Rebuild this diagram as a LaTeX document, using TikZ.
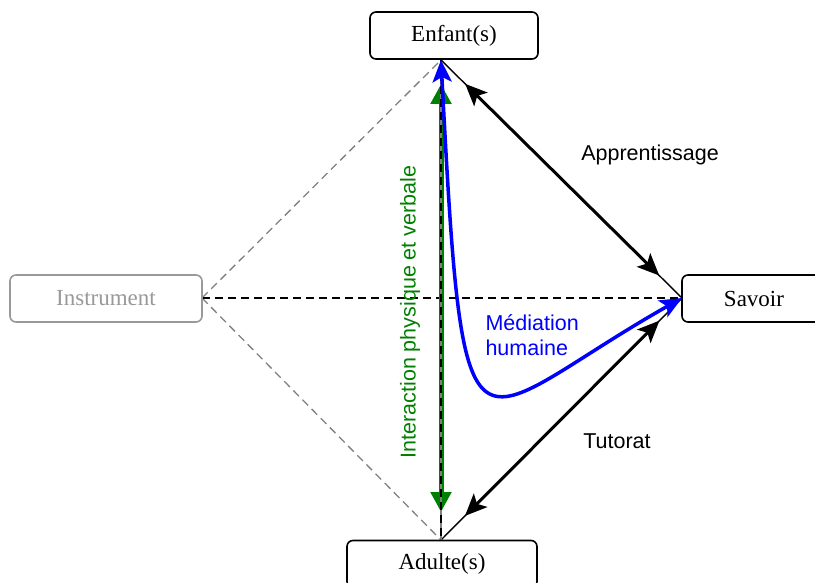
\documentclass[tikz,border=0pt]{standalone}
\usepackage{fontspec}
\setmainfont{Liberation Serif}
\setsansfont{Liberation Sans}
\usetikzlibrary{arrows.meta}

\tikzset{
  pole/.style={draw,rounded corners=6pt,fill=white,minimum height=47pt,line width=1.6pt,font=\fontsize{23}{26}\selectfont},
  tete/.tip={Stealth[length=22pt,width=19pt,inset=5pt]},
  lien/.style={line width=3pt,tete-tete},
  lbl/.style={font=\sffamily\fontsize{21.5}{25}\selectfont}
}

\begin{document}
\begin{tikzpicture}[x=1pt,y=-1pt]

\useasboundingbox (0,0) rectangle (815,583);

% sommets du losange
\coordinate (E) at (441,60);
\coordinate (S) at (682,298);
\coordinate (A) at (441,540);
\coordinate (I) at (202,298);

\draw[gray,line width=1.3pt,dash pattern=on 8pt off 5pt] (I) -- (E);
\draw[gray,line width=1.3pt,dash pattern=on 8pt off 5pt] (I) -- (A);
\draw[line width=1.3pt,dash pattern=on 8pt off 5pt] (I) -- (S);

\draw[line width=1.4pt] (E) -- (S);
\draw[line width=1.4pt] (A) -- (S);

% interaction
\draw[green!50!black,line width=5pt,{Triangle[length=20pt,width=20pt]}-{Triangle[length=20pt,width=20pt]},shorten <=24pt,shorten >=28pt] (E) -- (A);
\draw[gray,line width=2pt] (E) -- (A);
\draw[line width=1.3pt,dash pattern=on 8pt off 5pt] (E) -- (A);

\draw[lien,shorten <=34pt,shorten >=32pt] (E) -- (S);
\draw[lien,shorten <=34pt,shorten >=32pt] (A) -- (S);

% mediation
\draw[blue,line width=3.5pt,tete-tete] (E) .. controls (464,500) and (466,420) .. (S);

\node[pole] (enfant) at (454,35.5) [minimum width=168pt] {Enfant(s)};
\node[pole] (savoir) at (754,298.5) [minimum width=144pt] {Savoir};
\node[pole] (adulte) at (442,564) [minimum width=190pt] {Adulte(s)};
\node[pole,draw=gray!80,text=gray!80] (instrument) at (106,298.5) [minimum width=192pt] {Instrument};

\node[lbl] (apprentissage) at (650,155) {Apprentissage};
\node[lbl] (tutorat) at (617,441) {Tutorat};
\node[lbl,blue,align=left,anchor=west] (mediation) at (482,335) {Médiation\\humaine};
\node[lbl,green!50!black,rotate=90] (interaction) at (410,312) {Interaction physique et verbale};

\end{tikzpicture}
\end{document}
